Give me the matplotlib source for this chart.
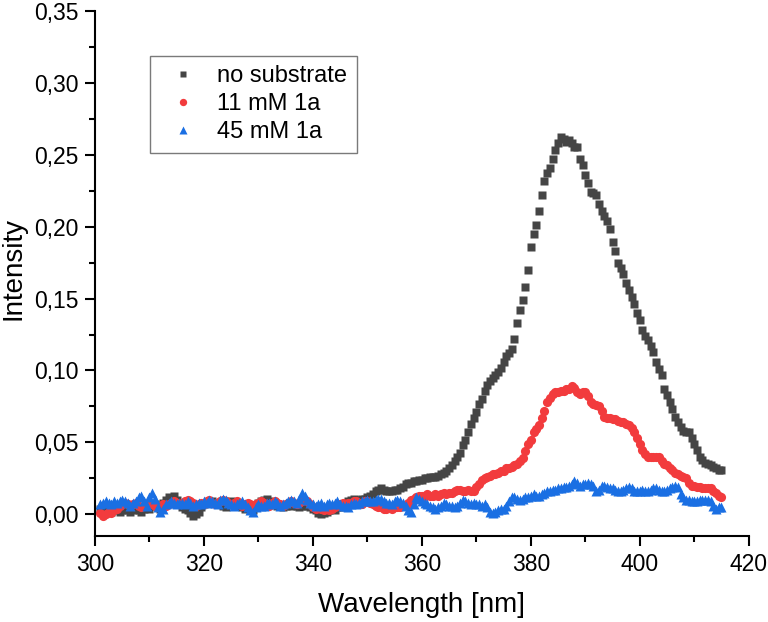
import matplotlib
matplotlib.use("Agg")
import matplotlib.pyplot as plt
import numpy as np
from matplotlib.ticker import MultipleLocator

plt.rcParams['font.family'] = ['Liberation Sans', 'DejaVu Sans']

# wavelength grid, 0.5 nm steps
wl = np.arange(301, 415.01, 0.5)

# no substrate
no_sub = [
    0.004, 0.006, 0.005, 0.003, 0.002, 0.004, 0.003, 0.002, 0.003, 0.004,
    0.003, 0.002, 0.003, 0.004, 0.003, 0.002, 0.004, 0.005, 0.004, 0.006,
    0.007, 0.005, 0.004, 0.008, 0.010, 0.012, 0.011, 0.013, 0.010, 0.007,
    0.005, 0.004, 0.003, 0.001, -0.001, 0.000, 0.002, 0.005, 0.007, 0.008,
    0.008, 0.009, 0.008, 0.007, 0.008, 0.006, 0.005, 0.007, 0.009, 0.008,
    0.007, 0.006, 0.005, 0.004, 0.005, 0.004, 0.003, 0.006, 0.008, 0.009,
    0.010, 0.011, 0.009, 0.008, 0.007, 0.006, 0.006, 0.005, 0.006, 0.007,
    0.006, 0.007, 0.006, 0.005, 0.006, 0.007, 0.006, 0.005, 0.004, 0.003,
    0.001, 0.000, 0.001, 0.002, 0.003, 0.004, 0.003, 0.005, 0.006, 0.005,
    0.007, 0.009, 0.010, 0.011, 0.010, 0.010, 0.011, 0.011, 0.012, 0.013,
    0.014, 0.016, 0.017, 0.018, 0.017, 0.016, 0.016, 0.016, 0.017, 0.017,
    0.018, 0.019, 0.021, 0.022, 0.022, 0.023, 0.023, 0.024, 0.024, 0.025,
    0.025, 0.026, 0.026, 0.026, 0.027, 0.028, 0.029, 0.030, 0.032, 0.034,
    0.037, 0.040, 0.043, 0.048, 0.052, 0.057, 0.063, 0.067, 0.071, 0.077,
    0.080, 0.086, 0.090, 0.093, 0.095, 0.097, 0.099, 0.102, 0.106, 0.110,
    0.112, 0.115, 0.122, 0.133, 0.142, 0.149, 0.158, 0.170, 0.186, 0.195,
    0.201, 0.211, 0.222, 0.232, 0.237, 0.241, 0.247, 0.253, 0.258, 0.262,
    0.261, 0.259, 0.260, 0.258, 0.255, 0.255, 0.247, 0.243, 0.236, 0.230,
    0.224, 0.223, 0.222, 0.216, 0.211, 0.207, 0.204, 0.198, 0.189, 0.183,
    0.175, 0.171, 0.167, 0.161, 0.156, 0.151, 0.146, 0.140, 0.135, 0.128,
    0.124, 0.121, 0.117, 0.113, 0.106, 0.101, 0.097, 0.087, 0.083, 0.078,
    0.073, 0.068, 0.064, 0.061, 0.058, 0.057, 0.057, 0.053, 0.049, 0.045,
    0.040, 0.038, 0.036, 0.035, 0.034, 0.033, 0.032, 0.031, 0.031,
]

# 11 mM 1a
mm11 = [
    0.001, -0.001, 0.000, 0.002, 0.001, 0.003, 0.004, 0.006, 0.007, 0.008,
    0.007, 0.006, 0.007, 0.008, 0.006, 0.005, 0.006, 0.007, 0.008, 0.007,
    0.006, 0.005, 0.006, 0.007, 0.006, 0.007, 0.008, 0.009, 0.008, 0.007,
    0.008, 0.009, 0.010, 0.009, 0.008, 0.006, 0.007, 0.008, 0.007, 0.009,
    0.010, 0.008, 0.007, 0.008, 0.009, 0.010, 0.009, 0.008, 0.007, 0.008,
    0.009, 0.008, 0.006, 0.007, 0.008, 0.007, 0.006, 0.007, 0.008, 0.009,
    0.008, 0.007, 0.006, 0.008, 0.009, 0.008, 0.007, 0.006, 0.007, 0.008,
    0.009, 0.008, 0.007, 0.008, 0.009, 0.010, 0.009, 0.007, 0.005, 0.004,
    0.005, 0.004, 0.003, 0.004, 0.003, 0.004, 0.005, 0.006, 0.007, 0.008,
    0.007, 0.008, 0.008, 0.009, 0.009, 0.008, 0.007, 0.009, 0.009, 0.008,
    0.007, 0.006, 0.005, 0.005, 0.004, 0.004, 0.005, 0.004, 0.005, 0.005,
    0.005, 0.006, 0.006, 0.008, 0.010, 0.011, 0.012, 0.013, 0.013, 0.013,
    0.014, 0.013, 0.013, 0.014, 0.013, 0.014, 0.015, 0.014, 0.015, 0.015,
    0.016, 0.017, 0.017, 0.016, 0.016, 0.017, 0.016, 0.016, 0.019, 0.021,
    0.024, 0.025, 0.026, 0.027, 0.028, 0.028, 0.029, 0.030, 0.030, 0.032,
    0.032, 0.033, 0.034, 0.035, 0.037, 0.039, 0.044, 0.049, 0.052, 0.057,
    0.059, 0.062, 0.067, 0.072, 0.078, 0.081, 0.084, 0.085, 0.085, 0.086,
    0.086, 0.087, 0.087, 0.089, 0.088, 0.085, 0.084, 0.085, 0.085, 0.082,
    0.078, 0.077, 0.076, 0.075, 0.072, 0.068, 0.067, 0.067, 0.066, 0.066,
    0.065, 0.064, 0.064, 0.063, 0.062, 0.060, 0.057, 0.053, 0.049, 0.045,
    0.042, 0.040, 0.040, 0.040, 0.040, 0.040, 0.037, 0.035, 0.034, 0.032,
    0.031, 0.029, 0.028, 0.027, 0.026, 0.025, 0.022, 0.020, 0.020, 0.019,
    0.019, 0.018, 0.018, 0.018, 0.018, 0.016, 0.015, 0.013, 0.012,
]

# 45 mM 1a
mm45 = [
    0.007, 0.008, 0.009, 0.008, 0.007, 0.009, 0.008, 0.009, 0.010, 0.009,
    0.008, 0.006, 0.008, 0.009, 0.012, 0.013, 0.009, 0.006, 0.012, 0.015,
    0.011, 0.005, 0.002, 0.004, 0.007, 0.008, 0.009, 0.008, 0.007, 0.008,
    0.008, 0.007, 0.009, 0.008, 0.006, 0.007, 0.008, 0.007, 0.009, 0.008,
    0.010, 0.009, 0.008, 0.007, 0.010, 0.011, 0.010, 0.008, 0.007, 0.006,
    0.007, 0.008, 0.009, 0.007, 0.005, 0.003, 0.002, 0.005, 0.007, 0.006,
    0.006, 0.008, 0.008, 0.007, 0.009, 0.008, 0.006, 0.007, 0.008, 0.009,
    0.010, 0.009, 0.008, 0.011, 0.015, 0.013, 0.010, 0.008, 0.007, 0.006,
    0.007, 0.008, 0.006, 0.007, 0.008, 0.007, 0.008, 0.009, 0.007, 0.006,
    0.006, 0.005, 0.007, 0.008, 0.007, 0.008, 0.009, 0.009, 0.010, 0.009,
    0.009, 0.010, 0.011, 0.011, 0.009, 0.008, 0.008, 0.007, 0.009, 0.010,
    0.009, 0.008, 0.006, 0.003, 0.002, 0.007, 0.012, 0.011, 0.009, 0.008,
    0.007, 0.006, 0.005, 0.004, 0.005, 0.006, 0.008, 0.007, 0.006, 0.006,
    0.005, 0.006, 0.008, 0.010, 0.009, 0.008, 0.007, 0.008, 0.007, 0.007,
    0.006, 0.007, 0.005, 0.002, 0.001, 0.002, 0.003, 0.004, 0.004, 0.006,
    0.009, 0.012, 0.012, 0.011, 0.010, 0.011, 0.012, 0.012, 0.013, 0.014,
    0.013, 0.013, 0.014, 0.015, 0.016, 0.016, 0.017, 0.017, 0.018, 0.018,
    0.019, 0.019, 0.020, 0.021, 0.023, 0.022, 0.020, 0.021, 0.021, 0.022,
    0.021, 0.020, 0.016, 0.017, 0.020, 0.020, 0.019, 0.018, 0.018, 0.017,
    0.016, 0.016, 0.017, 0.018, 0.019, 0.018, 0.016, 0.016, 0.016, 0.017,
    0.016, 0.016, 0.017, 0.018, 0.018, 0.017, 0.016, 0.016, 0.017, 0.018,
    0.019, 0.020, 0.019, 0.014, 0.012, 0.010, 0.010, 0.009, 0.009, 0.009,
    0.010, 0.010, 0.010, 0.010, 0.009, 0.006, 0.004, 0.005, 0.005,
]

labels = ['no substrate', '11 mM 1a', '45 mM 1a']
yticks = [0.00, 0.05, 0.10, 0.15, 0.20, 0.25, 0.30, 0.35]
ytick_labels = ['0,00', '0,05', '0,10', '0,15', '0,20', '0,25', '0,30', '0,35']
xticks = [300, 320, 340, 360, 380, 400, 420]

fig = plt.figure(figsize=(7.68, 6.22), dpi=100)
ax = fig.add_axes([0.1237, 0.1383, 0.8512, 0.8445])

ax.plot(wl, no_sub, ls='none', marker='s', ms=5.6, mec='none', c='#454545', label=labels[0])
ax.plot(wl, mm11, ls='none', marker='o', ms=6.6, mec='none', c='#f23b3d', label=labels[1])
ax.plot(wl, mm45, ls='none', marker='^', ms=7.6, mec='none', c='#1a6fe3', label=labels[2])

ax.set_xlim(300, 420)
ax.set_ylim(-0.015, 0.35)
ax.set_xticks(xticks)
ax.set_yticks(yticks)
ax.set_yticklabels(ytick_labels)
ax.xaxis.set_minor_locator(MultipleLocator(10))
ax.yaxis.set_minor_locator(MultipleLocator(0.025))

for s in ['top', 'right']:
    ax.spines[s].set_visible(False)
for s in ['left', 'bottom']:
    ax.spines[s].set_linewidth(1.5)

ax.tick_params(which='major', direction='out', length=7, width=1.5, labelsize=16.5, pad=5)
ax.tick_params(which='minor', direction='out', length=4, width=1.5)

ax.set_xlabel('Wavelength [nm]', fontsize=20, labelpad=12)
ax.set_ylabel('Intensity', fontsize=20, labelpad=4)
ax.yaxis.set_label_coords(-0.1055, 0.51)

leg = ax.legend(loc='upper left', bbox_to_anchor=(0.084, 0.914), borderaxespad=0,
                fontsize=17, frameon=True, fancybox=False, framealpha=1,
                edgecolor='#7a7a7a', handlelength=2.0, handletextpad=0.45,
                labelspacing=0.25, borderpad=0.4, markerscale=0.8)
leg.get_frame().set_linewidth(1.0)

fig.savefig('out.png', dpi=100)
